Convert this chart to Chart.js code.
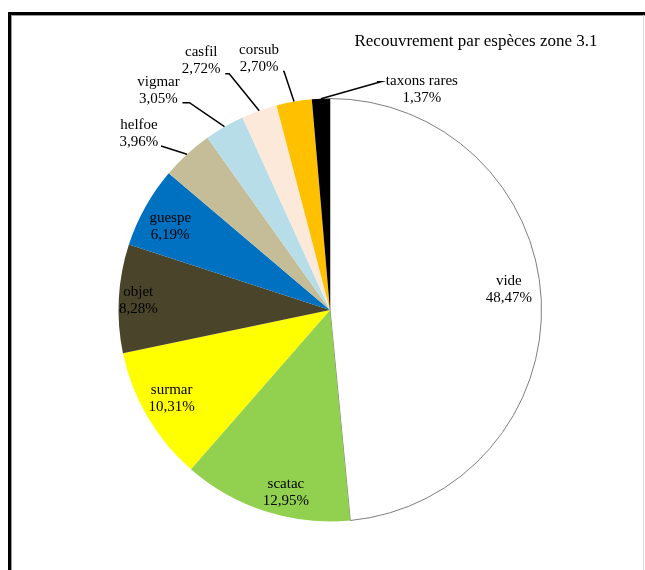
<!DOCTYPE html>
<html>
<head>
<meta charset="utf-8">
<script src="https://cdn.jsdelivr.net/npm/chart.js@4"></script>
<style>
  html, body { margin: 0; padding: 0; background: #fff; }
  body { width: 645px; height: 570px; overflow: hidden; position: relative; }
  #cadre {
    position: absolute; left: 8px; top: 12px; width: 660px; height: 600px;
    border-left: 3px solid #000; border-top: 3px solid #000;
    box-shadow: inset 1px 1px 0 #9a9a9a;
  }
  #bordDroit { position: absolute; left: 643px; top: 15px; width: 1px; height: 560px; background: #d8d8d8; }
  #zone { position: absolute; left: 0; top: 0; width: 645px; height: 570px; }
</style>
</head>
<body>
<div id="cadre"></div>
<div id="bordDroit"></div>
<div id="zone"><canvas id="camembert" width="645" height="570"></canvas></div>
<script>
// ------------------------------------------------------------
//  Données : recouvrement par espèces, zone 3.1
// ------------------------------------------------------------
const TITRE    = 'Recouvrement par espèces zone 3.1';
const ESPECES  = ['vide', 'scatac', 'surmar', 'objet', 'guespe', 'helfoe', 'vigmar', 'casfil', 'corsub', 'taxons rares'];
const POURCENT = [48.47, 12.95, 10.31, 8.28, 6.19, 3.96, 3.05, 2.72, 2.70, 1.37];
const COULEURS = ['#FFFFFF', '#92D050', '#FFFF00', '#4A452A', '#0070C0', '#C4BD97', '#B7DEE8', '#FDE9D9', '#FFC000', '#000000'];

// étiquettes : dans la part (rayon en px + petit décalage) ou dehors avec trait de rappel
// dehors : dx/dy = position du texte par rapport au point de sortie de la part,
//          coude = point de cassure du trait, bout = écart texte / fin du trait
const ETIQ = [
  { r: 179, dx: 0, dy: -11 },
  { r: 190, dx: 14, dy: 2 },
  { r: 180, dx: -3, dy: -2 },
  { r: 192, dx: 0, dy: 2 },
  { r: 183, dx: 0, dy: 6 },
  { dx: -48, dy: -20, coude: [-25, -8], bout: 22 },
  { dx: -66, dy: -36, coude: [-35, -24], bout: 24 },
  { dx: -58, dy: -50, coude: [-30, -37], bout: 24 },
  { dx: -35, dy: -43, coude: [-10, -30], bout: 24 },
  { dx: 101, dy: -9, coude: [60, -17], bout: 45 }
];

const fmt = v => v.toFixed(2).replace('.', ',') + '%';
const SERIF = '"Liberation Serif", "Times New Roman", serif';

const etiquettes = {
  id: 'etiquettes',
  afterDatasetsDraw(chart) {
    const ctx = chart.ctx;
    const arcs = chart.getDatasetMeta(0).data;
    ctx.save();
    ctx.fillStyle = '#000';
    ctx.textAlign = 'center';
    ctx.textBaseline = 'middle';

    // titre
    ctx.font = '17px ' + SERIF;
    ctx.fillText(TITRE, 476, 42);

    ctx.font = '15px ' + SERIF;
    arcs.forEach((arc, i) => {
      const e = ETIQ[i];
      const mid = (arc.startAngle + arc.endAngle) / 2;
      let tx, ty;
      if (e.r) {
        tx = arc.x + Math.cos(mid) * e.r + e.dx;
        ty = arc.y + Math.sin(mid) * e.r + e.dy;
      } else {
        const px = arc.x + Math.cos(mid) * arc.outerRadius;
        const py = arc.y + Math.sin(mid) * arc.outerRadius;
        tx = px + e.dx;
        ty = py + e.dy;
        const cx = px + e.coude[0], cy = py + e.coude[1];
        const fx = e.dx > 0 ? tx - e.bout : tx + e.bout;
        ctx.strokeStyle = '#000';
        ctx.lineWidth = 1.5;
        ctx.beginPath();
        ctx.moveTo(px, py);
        ctx.lineTo(cx, cy);
        ctx.lineTo(fx, cy);
        ctx.stroke();
      }
      ctx.fillText(ESPECES[i], tx, ty - 9);
      ctx.fillText(fmt(POURCENT[i]), tx, ty + 8);
    });
    ctx.restore();
  }
};

new Chart(document.getElementById('camembert'), {
  type: 'pie',
  data: {
    labels: ESPECES,
    datasets: [{
      data: POURCENT,
      backgroundColor: COULEURS,
      borderColor: COULEURS.map((c, i) => i === 0 ? '#7f7f7f' : c),
      borderWidth: COULEURS.map((c, i) => i === 0 ? 1 : 0)
    }]
  },
  options: {
    responsive: false,
    animation: false,
    layout: { padding: { left: 118, right: 103, top: 98, bottom: 48 } },
    plugins: {
      legend: { display: false },
      tooltip: { enabled: false }
    }
  },
  plugins: [etiquettes]
});
</script>
</body>
</html>
